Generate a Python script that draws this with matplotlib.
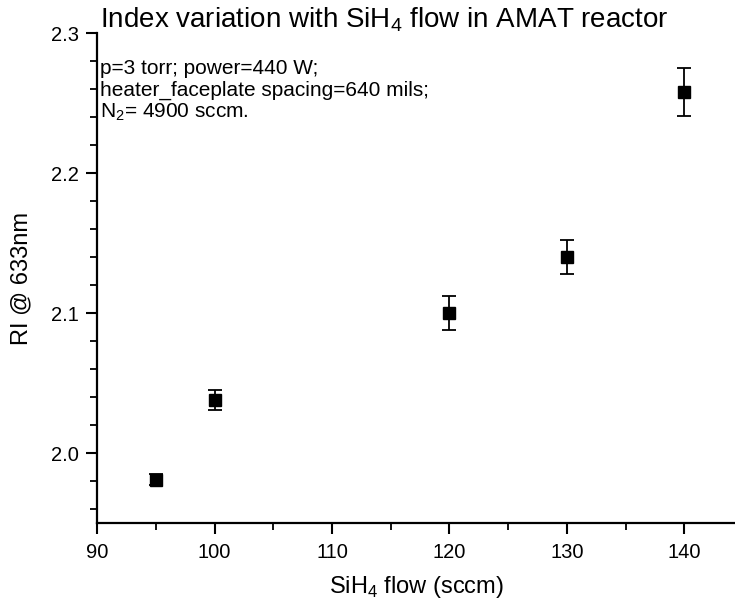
import numpy as np
import matplotlib.pyplot as plt
from matplotlib.ticker import MultipleLocator

plt.rcParams['font.family'] = ['Liberation Sans', 'DejaVu Sans']
plt.rcParams['mathtext.fontset'] = 'custom'
plt.rcParams['mathtext.rm'] = 'Liberation Sans'

# SiH4 flow (sccm) vs refractive index
flow = [95, 100, 120, 130, 140]
ri = [1.981, 2.038, 2.100, 2.140, 2.258]
ri_err = [0.004, 0.007, 0.012, 0.012, 0.017]

fig = plt.figure(figsize=(7.35, 6.04), dpi=100)
ax = fig.add_axes([0.132, 0.134, 0.868, 0.811])

ax.errorbar(flow, ri, yerr=ri_err, fmt='s', color='black', markersize=8.5,
            ecolor='black', elinewidth=1.3, capsize=5, capthick=1.3)

ax.set_xlim(90, 144.3)
ax.set_ylim(1.95, 2.3)
ax.xaxis.set_major_locator(MultipleLocator(10))
ax.xaxis.set_minor_locator(MultipleLocator(5))
ax.yaxis.set_major_locator(MultipleLocator(0.1))
ax.yaxis.set_minor_locator(MultipleLocator(0.02))
ax.yaxis.set_major_formatter(plt.FormatStrFormatter('%.1f'))

ax.spines['top'].set_visible(False)
ax.spines['right'].set_visible(False)
ax.spines['left'].set_linewidth(1.6)
ax.spines['bottom'].set_linewidth(1.6)
ax.tick_params(which='major', direction='out', length=8, width=1.5, labelsize=14.5)
ax.tick_params(which='minor', direction='out', length=5, width=1.3)
ax.tick_params(axis='x', which='major', pad=6)
ax.tick_params(axis='y', which='major', pad=5)

ax.set_xlabel('SiH$_4$ flow (sccm)', fontsize=17, labelpad=9)
ax.set_ylabel('RI @ 633nm', fontsize=17, labelpad=13)

fig.text(100 / 735, 1 - 20 / 604, 'Index variation with SiH$_4$ flow in AMAT reactor',
         fontsize=20, va='center', ha='left')
fig.text(100 / 735, 1 - 59 / 604,
         'p=3 torr; power=440 W;\nheater_faceplate spacing=640 mils;\nN$_2$= 4900 sccm.',
         fontsize=15, va='top', ha='left', linespacing=1.15)

fig.savefig('out.png', dpi=100)
